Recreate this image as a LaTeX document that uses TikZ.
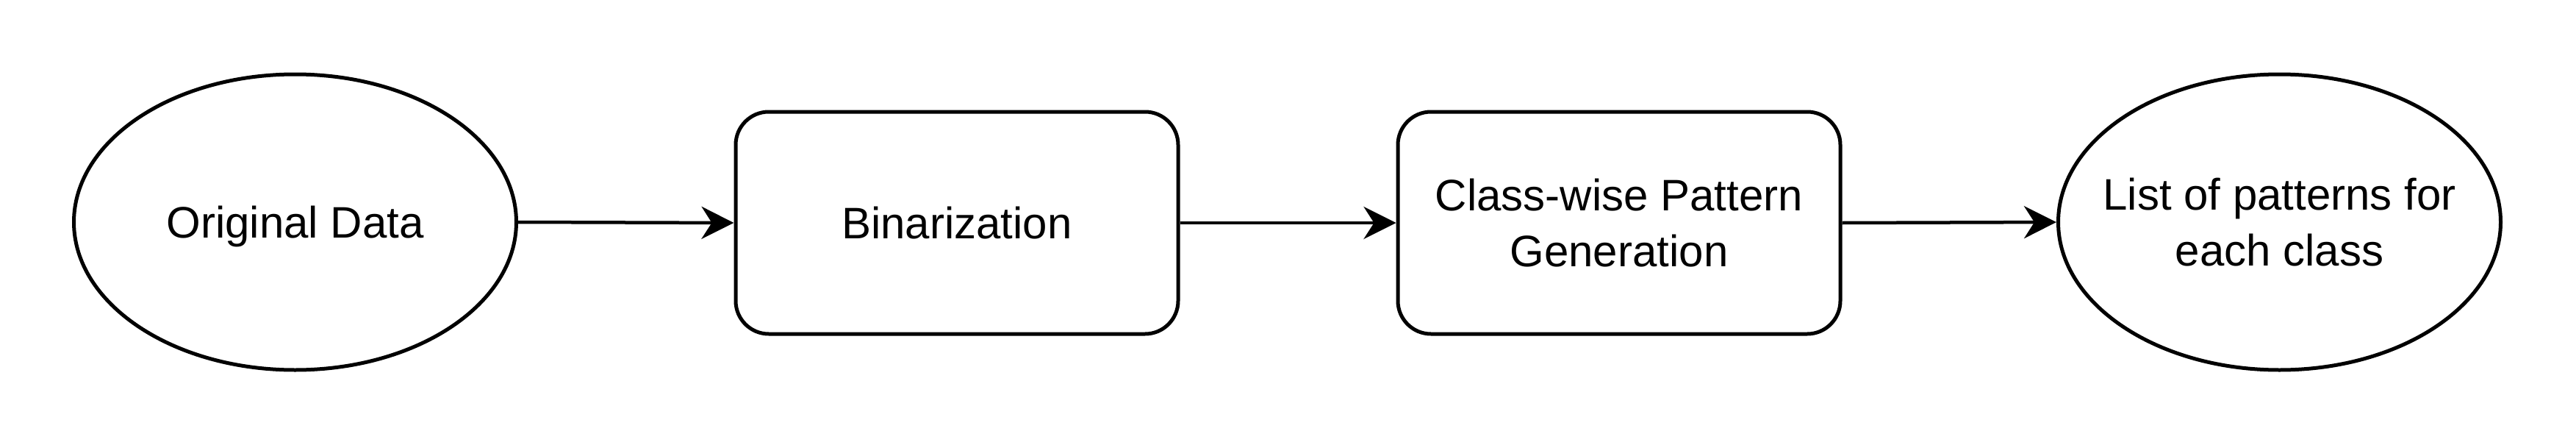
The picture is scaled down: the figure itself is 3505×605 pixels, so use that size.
\documentclass[tikz,border=0pt]{standalone}
\usepackage{fontspec}
\setmainfont{Liberation Sans}
\usetikzlibrary{shapes.geometric,arrows.meta}
\begin{document}
\begin{tikzpicture}[x=1pt,y=-1pt,
  line width=5pt,
  every node/.style={font=\fontsize{60}{76}\selectfont, align=center, inner sep=0pt},
  ell/.style={draw, ellipse, minimum width=602pt, minimum height=402pt},
  proc/.style={draw, rounded corners=45pt, minimum width=602pt, minimum height=302pt},
  conn/.style={-{Stealth[length=44pt, width=44pt, inset=14pt]}, line width=4.5pt}
]
\useasboundingbox (0,0) rectangle (3505,605);
\node[ell] (a) at (401.5,302) {};
\node[text depth=0pt] (at) at (a) {Original Data};
\node[proc] (b) at (1302,303) {Binarization};
\node[proc] (c) at (2203,303) {Class-wise Pattern\\Generation};
\node[ell] (d) at (3101.5,302) {};
\node (dt) at (d) {List of patterns for\\each class};
\draw[conn] (a.east) -- (b.west);
\draw[conn] (b.east) -- (c.west);
\draw[conn] (c.east) -- (d.west);
\end{tikzpicture}
\end{document}
